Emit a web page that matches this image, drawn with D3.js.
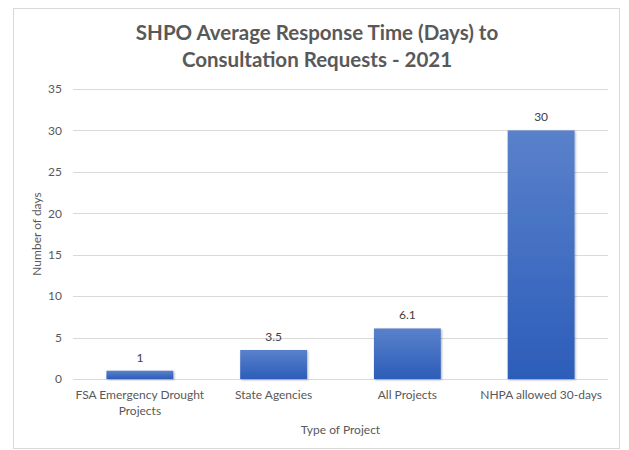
<!DOCTYPE html>
<html>
<head>
<meta charset="utf-8">
<script src="https://cdn.jsdelivr.net/npm/d3@7"></script>
<style>
  body { margin: 0; background: #fff; }
  text { font-family: Lato, "Open Sans", sans-serif; }
</style>
</head>
<body>
<div id="chart"></div>
<script>
var categories = [['FSA Emergency Drought', 'Projects'], ['State Agencies'], ['All Projects'], ['NHPA allowed 30-days']]
var values = [1, 3.5, 6.1, 30]
var ticks = [0, 5, 10, 15, 20, 25, 30, 35]
var title_lines = ['SHPO Average Response Time (Days) to', 'Consultation Requests - 2021']

var W = 629, H = 450
var plotLeft = 73, plotRight = 608, plotTop = 89, plotBottom = 379

var svg = d3.select('div#chart')
            .append('svg')
            .attr('width', W)
            .attr('height', H)

var defs = svg.append('defs')
var grad = defs.append('linearGradient')
    .attr('id', 'bargrad')
    .attr('x1', 0).attr('y1', 0).attr('x2', 0).attr('y2', 1)
grad.append('stop').attr('offset', '0%').attr('stop-color', '#5a81cb')
grad.append('stop').attr('offset', '100%').attr('stop-color', '#2c5db9')

var shadow = defs.append('filter').attr('id', 'shadow')
    .attr('x', '-20%').attr('y', '-20%').attr('width', '140%').attr('height', '140%')
shadow.append('feDropShadow')
    .attr('dx', 1).attr('dy', 1).attr('stdDeviation', 1.2)
    .attr('flood-color', '#000').attr('flood-opacity', 0.3)

// chart frame
svg.append('rect')
    .attr('x', 13.5).attr('y', 8.5)
    .attr('width', 606).attr('height', 440)
    .attr('fill', 'none')
    .attr('stroke', '#d9d9d9')

svg.append('text')
    .attr('text-anchor', 'middle')
    .attr('fill', '#595959')
    .style('font-size', '20.5px')
    .style('font-weight', 'bold')
    .selectAll('tspan')
    .data(title_lines)
    .enter().append('tspan')
    .attr('x', 317)
    .attr('y', function(d, i){ return 40 + i * 27 })
    .text(function(d){ return d })

var x = d3.scaleBand()
    .domain(d3.range(values.length))
    .range([plotLeft, plotRight])
    .paddingInner(0.5)
    .paddingOuter(0.25)

var y = d3.scaleLinear()
    .domain([0, 35])
    .range([plotBottom, plotTop])

// gridlines
svg.append('g')
    .selectAll('line')
    .data(ticks)
    .enter().append('line')
    .attr('x1', plotLeft).attr('x2', plotRight)
    .attr('y1', function(d){ return Math.round(y(d)) + 0.5 })
    .attr('y2', function(d){ return Math.round(y(d)) + 0.5 })
    .attr('stroke', '#d9d9d9')

var yAxis = svg.append('g')
    .attr('transform', 'translate(' + (plotLeft - 8) + ',0)')
    .call(d3.axisLeft(y).tickValues(ticks).tickSize(0).tickPadding(3))
yAxis.select('.domain').remove()
yAxis.selectAll('text')
    .attr('fill', '#595959')
    .style('font-size', '12px')
    .style('font-family', 'Lato, sans-serif')

svg.append('g')
    .selectAll('rect')
    .data(values)
    .enter().append('rect')
    .attr('x', function(d, i){ return x(i) })
    .attr('y', function(d){ return y(d) })
    .attr('width', x.bandwidth())
    .attr('height', function(d){ return y(0) - y(d) })
    .attr('fill', 'url(#bargrad)')
    .attr('filter', 'url(#shadow)')

svg.append('g')
    .selectAll('text')
    .data(values)
    .enter().append('text')
    .attr('x', function(d, i){ return x(i) + x.bandwidth() / 2 })
    .attr('y', function(d){ return y(d) - 9 })
    .attr('text-anchor', 'middle')
    .attr('fill', '#404040')
    .style('font-size', '12px')
    .text(function(d){ return d })

var xlab = svg.append('g')
    .selectAll('text')
    .data(categories)
    .enter().append('text')
    .attr('text-anchor', 'middle')
    .attr('fill', '#595959')
    .style('font-size', '12px')
xlab.selectAll('tspan')
    .data(function(d, i){ return d.map(function(s){ return {s: s, i: i} }) })
    .enter().append('tspan')
    .attr('x', function(d){ return x(d.i) + x.bandwidth() / 2 })
    .attr('y', function(d, j){ return 399 + j * 16 })
    .text(function(d){ return d.s })

svg.append('text')
    .attr('x', (plotLeft + plotRight) / 2)
    .attr('y', 434)
    .attr('text-anchor', 'middle')
    .attr('fill', '#595959')
    .style('font-size', '12px')
    .text('Type of Project')

svg.append('text')
    .attr('transform', 'translate(41,' + ((plotTop + plotBottom) / 2) + ') rotate(-90)')
    .attr('text-anchor', 'middle')
    .attr('fill', '#595959')
    .style('font-size', '12px')
    .text('Number of days')
</script>
</body>
</html>
